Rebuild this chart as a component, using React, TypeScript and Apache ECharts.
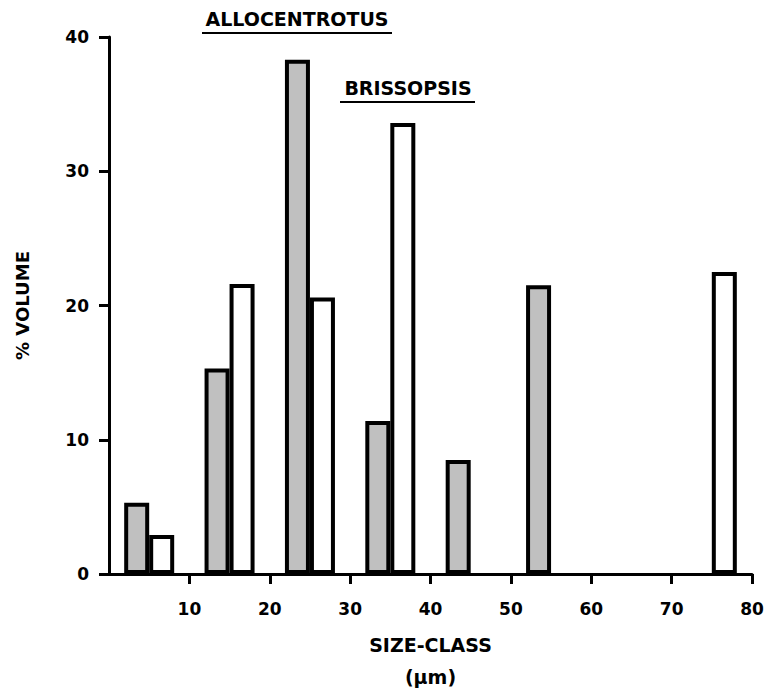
import React, { useEffect, useRef } from "react";
import * as echarts from "echarts";

const sizeClasses = ["0-10", "10-20", "20-30", "30-40", "40-50", "50-60", "60-70", "70-80"];
const allocentrotus = [5.3, 15.3, 38.3, 11.4, 8.5, 21.5, null, null];
const brissopsis = [2.9, 21.6, 20.6, 33.6, null, null, null, 22.5];
const xTickValues = [10, 20, 30, 40, 50, 60, 70, 80];
const yTickValues = [0, 10, 20, 30, 40];
const legendLabels = ["ALLOCENTROTUS", "BRISSOPSIS"];

const FONT = "'DejaVu Sans', 'Liberation Sans', Arial, sans-serif";

export default function App() {
  const ref = useRef<HTMLDivElement>(null);
  useEffect(() => {
    if (!ref.current) return;
    const chart = echarts.init(ref.current, null, { renderer: "svg" });
    const axisLabelStyle = { color: "#000", fontFamily: FONT, fontWeight: "bold", fontSize: 17 };
    chart.setOption({
      animation: false,
      backgroundColor: "#fff",
      grid: { left: 109, right: 14, top: 37, bottom: 116, containLabel: false, outerBoundsMode: "none" },
      xAxis: [
        {
          type: "value",
          min: 0,
          max: 80,
          interval: 10,
          splitLine: { show: false },
          axisLine: { lineStyle: { color: "#000", width: 3 } },
          axisTick: { show: true, length: 10, lineStyle: { color: "#000", width: 3 }, customValues: xTickValues },
          axisLabel: { ...axisLabelStyle, margin: 26, customValues: xTickValues },
          name: "SIZE-CLASS\n(µm)",
          nameLocation: "middle",
          nameGap: 55,
          nameTextStyle: { ...axisLabelStyle, fontSize: 19, lineHeight: 32 },
        },
        {
          type: "category",
          data: sizeClasses,
          show: false,
          boundaryGap: true,
        },
      ],
      yAxis: {
        type: "value",
        min: 0,
        max: 40,
        interval: 10,
        splitLine: { show: false },
        axisLine: { show: true, lineStyle: { color: "#000", width: 3 } },
        axisTick: { show: true, length: 10, lineStyle: { color: "#000", width: 3 }, customValues: yTickValues },
        axisLabel: { ...axisLabelStyle, margin: 20 },
        name: "% VOLUME",
        nameLocation: "middle",
        nameGap: 78,
        nameRotate: 90,
        nameTextStyle: { ...axisLabelStyle, fontSize: 18 },
      },
      series: [
        {
          name: legendLabels[0],
          type: "bar",
          xAxisIndex: 1,
          data: allocentrotus,
          barWidth: 25,
          barGap: "0%",
          itemStyle: { color: "#c0c0c0", borderColor: "#000", borderWidth: 4 },
        },
        {
          name: legendLabels[1],
          type: "bar",
          xAxisIndex: 1,
          data: brissopsis,
          barWidth: 25,
          barGap: "0%",
          itemStyle: { color: "#fff", borderColor: "#000", borderWidth: 4 },
        },
      ],
      graphic: [
        {
          type: "text",
          x: 297,
          y: 19,
          style: { text: legendLabels[0], fill: "#000", font: `bold 19px ${FONT}`, textAlign: "center", textVerticalAlign: "middle" },
        },
        { type: "line", shape: { x1: 202, y1: 33, x2: 392, y2: 33 }, style: { stroke: "#000", lineWidth: 2 } },
        {
          type: "text",
          x: 408,
          y: 88,
          style: { text: legendLabels[1], fill: "#000", font: `bold 19px ${FONT}`, textAlign: "center", textVerticalAlign: "middle" },
        },
        { type: "line", shape: { x1: 340, y1: 102, x2: 475, y2: 102 }, style: { stroke: "#000", lineWidth: 2 } },
      ],
    });
    return () => chart.dispose();
  }, []);
  return <div ref={ref} style={{ position: "fixed", left: 0, top: 0, width: 766, height: 690 }} />;
}
